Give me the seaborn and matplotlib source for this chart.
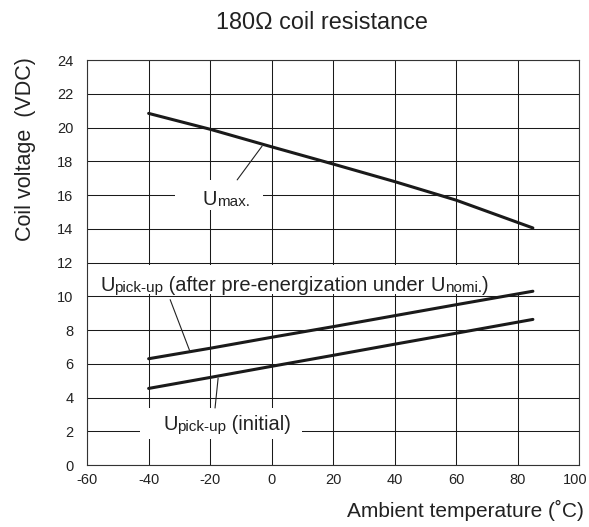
import seaborn as sns
import numpy as np
import pandas as pd
import matplotlib.pyplot as plt
from matplotlib.patches import Rectangle
from matplotlib.transforms import ScaledTranslation

# data
temp = [-40, -20, 0, 20, 40, 60, 85]
u_max = [20.84, 19.9, 18.86, 17.84, 16.8, 15.7, 14.05]
u_pick_after = [6.3, 6.92, 7.57, 8.2, 8.85, 9.5, 10.3]
u_pick_init = [4.54, 5.19, 5.85, 6.5, 7.16, 7.81, 8.63]

x_ticks = [-60, -40, -20, 0, 20, 40, 60, 80, 100]
y_ticks = list(range(0, 25, 2))

sns.set_style('white')
plt.rcParams['font.family'] = ['Liberation Sans', 'DejaVu Sans']
plt.rcParams['axes.unicode_minus'] = False

df = pd.DataFrame({
    'temp': temp * 3,
    'volt': u_max + u_pick_after + u_pick_init,
    'curve': ['max'] * 7 + ['after'] * 7 + ['init'] * 7,
})

fig = plt.figure(figsize=(5.89, 5.27), dpi=100)
ax = fig.add_axes([0.148, 0.1176, 0.835, 0.7684])

sns.lineplot(data=df, x='temp', y='volt', units='curve', estimator=None,
             color='#1a1a1a', lw=2.2, ax=ax, zorder=3, legend=False)

ax.set_xlim(-60, 100)
ax.set_ylim(0, 24)
ax.set_xticks(x_ticks)
ax.set_yticks(y_ticks)
ax.grid(True, color='#1a1a1a', lw=0.75)
ax.set_axisbelow(True)
for s in ax.spines.values():
    s.set_color('#333333')
    s.set_linewidth(0.8)
ax.tick_params(length=0, labelsize=10.5, colors='#222222')
ax.tick_params(axis='y', pad=10)
ax.tick_params(axis='x', pad=6)
# keep "100" inside the figure
last = ax.get_xticklabels()[-1]
last.set_transform(last.get_transform() +
                   ScaledTranslation(-3 / 72, 0, fig.dpi_scale_trans))

ax.set_xlabel('Ambient temperature (˚C)', fontsize=15, color='#222222')
ax.xaxis.label.set_ha('right')
ax.xaxis.set_label_coords(1.01, -0.085)
ax.set_ylabel('Coil voltage  (VDC)', fontsize=15.5, color='#222222')
ax.yaxis.set_label_coords(-0.105, 0.78)
fig.text(0.547, 0.958, '180Ω coil resistance', fontsize=16.8, ha='center',
         va='center', color='#222222')

# white boxes behind the curve labels
for (x0, y0, w, h) in [(-31.4, 15.1, 28.6, 1.8), (-60, 10.12, 160, 1.76),
                       (-42.8, 1.55, 52.7, 1.85)]:
    ax.add_patch(Rectangle((x0, y0), w, h, facecolor='white', edgecolor='none',
                           zorder=1))


def label(x, y, parts):
    t = ax.text(x, y, parts[0][0], fontsize=parts[0][1], ha='left',
                va='bottom', color='#222222', zorder=4)
    for s, fs in parts[1:]:
        t = ax.annotate(s, xy=(1, 0), xycoords=t, fontsize=fs, ha='left',
                        va='bottom', color='#222222', zorder=4)


big, small = 14.5, 11
label(-22.5, 15.15, [('U', big), ('max.', small)])
label(-55.8, 10.1, [('U', big), ('pick-up', small),
                    (' (after pre-energization under ', big),
                    ('U', big), ('nomi.', small), (')', big)])
label(-35.3, 1.85, [('U', big), ('pick-up', small), (' (initial)', big)])

# leader lines
for (xa, ya, xb, yb) in [(-3.1, 18.9, -11.2, 16.9), (-26.5, 6.7, -33, 9.8),
                         (-17.4, 5.15, -18.4, 3.38)]:
    ax.annotate('', xy=(xa, ya), xytext=(xb, yb),
                arrowprops=dict(arrowstyle='-', color='#222222', lw=0.8,
                                shrinkA=0, shrinkB=0), zorder=4)

fig.savefig('out.png', dpi=100)
